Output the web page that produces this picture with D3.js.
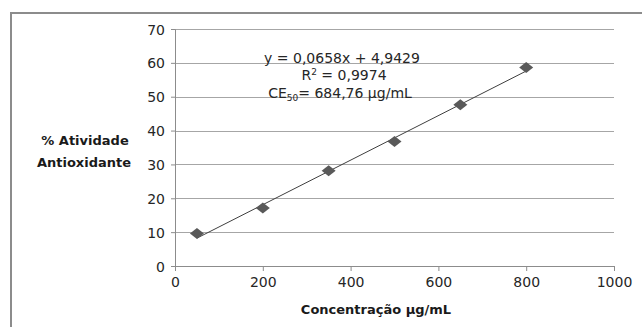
<!DOCTYPE html>
<html>
<head>
<meta charset="utf-8">
<script src="https://cdn.jsdelivr.net/npm/d3@7"></script>
<style>
  body { margin: 0; background: #fff; }
  svg { display: block; font-family: "DejaVu Sans", sans-serif; }
</style>
</head>
<body>
<div id="chart"></div>
<script>
// data
var concentrations = [50, 200, 350, 500, 650, 800];
var activity = [9.6, 17.1, 28.1, 36.8, 47.6, 58.6];
var xTicks = [0, 200, 400, 600, 800, 1000];
var yTicks = [0, 10, 20, 30, 40, 50, 60, 70];
var slope = 0.0658;
var intercept = 4.9429;

var svgWidth = 642;
var svgHeight = 327;

var margin = { top: 29, right: 28, bottom: 61, left: 175 };
var width = svgWidth - margin.left - margin.right;
var height = svgHeight - margin.top - margin.bottom;

var svg = d3.select("#chart")
    .append("svg")
    .attr("width", svgWidth)
    .attr("height", svgHeight);

// outer chart border (runs off the bottom/right of the picture)
svg.append("rect")
    .attr("x", 11)
    .attr("y", 13)
    .attr("width", 660)
    .attr("height", 340)
    .attr("fill", "none")
    .attr("stroke", "#8c8c8c")
    .attr("stroke-width", 2);

var chartGroup = svg.append("g")
    .attr("transform", `translate(${margin.left}, ${margin.top})`);

var x = d3.scaleLinear().domain([0, 1000]).range([0, width]);
var y = d3.scaleLinear().domain([0, 70]).range([height, 0]);

// gridlines
chartGroup.append("g")
    .selectAll("line")
    .data(yTicks.filter(d => d > 0))
    .enter()
    .append("line")
    .attr("x1", 0)
    .attr("x2", width)
    .attr("y1", d => Math.round(y(d)) + 0.5)
    .attr("y2", d => Math.round(y(d)) + 0.5)
    .attr("stroke", "#a6a6a6")
    .attr("stroke-width", 1);

// x axis
var bottomAxis = d3.axisBottom(x)
    .tickValues(xTicks)
    .tickSize(5)
    .tickPadding(6)
    .tickFormat(d3.format("d"));

var xAxis = chartGroup.append("g")
    .attr("transform", `translate(0, ${Math.round(height)})`)
    .call(bottomAxis);

// y axis
var leftAxis = d3.axisLeft(y)
    .tickValues(yTicks)
    .tickSize(4)
    .tickPadding(6)
    .tickFormat(d3.format("d"));

var yAxis = chartGroup.append("g")
    .call(leftAxis);

[xAxis, yAxis].forEach(function(a) {
    a.select(".domain").attr("stroke", "#8c8c8c").attr("stroke-width", 1);
    a.selectAll(".tick line").attr("stroke", "#8c8c8c");
    a.selectAll(".tick text")
        .attr("fill", "#262626")
        .style("font-size", "14px")
        .style("font-family", "DejaVu Sans, sans-serif");
});
yAxis.selectAll(".tick text").attr("dy", "0.36em");

// trend line
var xMin = d3.min(concentrations);
var xMax = d3.max(concentrations);
chartGroup.append("line")
    .attr("x1", x(xMin))
    .attr("y1", y(slope * xMin + intercept))
    .attr("x2", x(xMax))
    .attr("y2", y(slope * xMax + intercept))
    .attr("stroke", "#3f3f3f")
    .attr("stroke-width", 1);

// diamond markers
var diamond = "M0,-5.5L7,0L0,5.5L-7,0Z";
chartGroup.selectAll("path.pt")
    .data(concentrations)
    .enter()
    .append("path")
    .attr("class", "pt")
    .attr("d", diamond)
    .attr("transform", (d, i) => `translate(${x(d)}, ${y(activity[i])})`)
    .attr("fill", "#595959");

// equation labels
var eq = svg.append("g")
    .attr("text-anchor", "middle")
    .attr("fill", "#262626")
    .style("font-size", "14px");

eq.append("text")
    .attr("x", 342)
    .attr("y", 63)
    .text("y = 0,0658x + 4,9429");

var r2 = eq.append("text")
    .attr("x", 344)
    .attr("y", 80);
r2.append("tspan").text("R");
r2.append("tspan").attr("dy", -5).style("font-size", "9px").text("2");
r2.append("tspan").attr("dy", 5).text(" = 0,9974");

var ce = eq.append("text")
    .attr("x", 340)
    .attr("y", 98);
ce.append("tspan").text("CE");
ce.append("tspan").attr("dy", 3).style("font-size", "9px").text("50");
ce.append("tspan").attr("dy", -3).text("= 684,76 µg/mL");

// axis titles
var yTitle = svg.append("text")
    .attr("text-anchor", "middle")
    .attr("font-weight", "bold")
    .attr("fill", "#1a1a1a")
    .style("font-size", "13px");
yTitle.append("tspan").attr("x", 85).attr("y", 145).text("% Atividade");
yTitle.append("tspan").attr("x", 84).attr("y", 167).text("Antioxidante");

svg.append("text")
    .attr("x", 376)
    .attr("y", 314)
    .attr("text-anchor", "middle")
    .attr("font-weight", "bold")
    .attr("fill", "#1a1a1a")
    .style("font-size", "13px")
    .text("Concentração µg/mL");
</script>
</body>
</html>
